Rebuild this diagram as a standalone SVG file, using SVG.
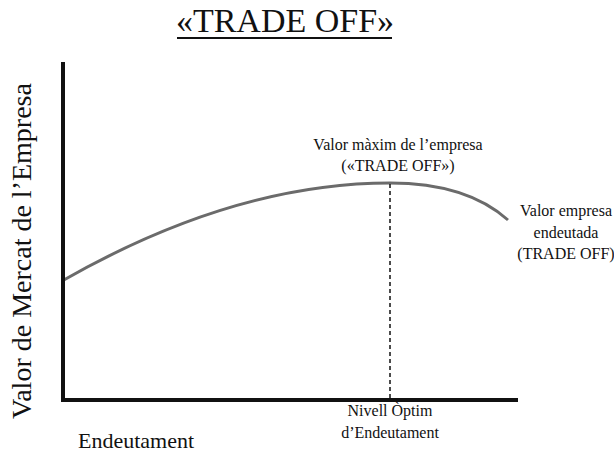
<svg xmlns="http://www.w3.org/2000/svg" width="614" height="455" viewBox="0 0 614 455">
  <style>
    text { font-family: "Liberation Serif", "Times New Roman", serif; fill: #111; }
    .title { font-size: 34px; }
    .y-title { font-size: 28px; }
    .x-title { font-size: 22px; }
    .note { font-size: 16px; }
    .axis { stroke: #111; stroke-width: 4; fill: none; }
    .curve { stroke: #6b6b6b; stroke-width: 3; fill: none; }
    .guide { stroke: #111; stroke-width: 1.5; stroke-dasharray: 4 3; fill: none; }
  </style>
  <rect width="614" height="455" fill="#ffffff"/>

  <g id="title">
    <text class="title" x="285" y="32" text-anchor="middle">«TRADE OFF»</text>
    <line x1="177" y1="38" x2="392" y2="38" stroke="#111" stroke-width="2"/>
  </g>

  <g id="connectors">
    <path class="curve" d="M62,281 C160,225 270,183 390,183 C440,183 480,195 508,220"/>
    <line class="guide" x1="390" y1="184" x2="390" y2="398"/>
  </g>

  <g id="axes">
    <polyline class="axis" points="63,62 63,400 518,400"/>
  </g>

  <g id="y-label">
    <text class="y-title" transform="translate(31,251) rotate(-90)" text-anchor="middle">Valor de Mercat de l’Empresa</text>
  </g>

  <g id="x-label">
    <text class="x-title" x="78" y="448">Endeutament</text>
  </g>

  <g id="max-value">
    <text class="note" x="398" y="150" text-anchor="middle">Valor màxim de l’empresa</text>
    <text class="note" x="398" y="171" text-anchor="middle">(«TRADE OFF»)</text>
  </g>

  <g id="levered-value">
    <text class="note" x="566" y="216" text-anchor="middle">Valor empresa</text>
    <text class="note" x="566" y="238" text-anchor="middle">endeutada</text>
    <text class="note" x="566" y="259" text-anchor="middle">(TRADE OFF)</text>
  </g>

  <g id="optimum">
    <text class="note" x="390" y="416" text-anchor="middle">Nivell Òptim</text>
    <text class="note" x="390" y="438" text-anchor="middle">d’Endeutament</text>
  </g>
</svg>
